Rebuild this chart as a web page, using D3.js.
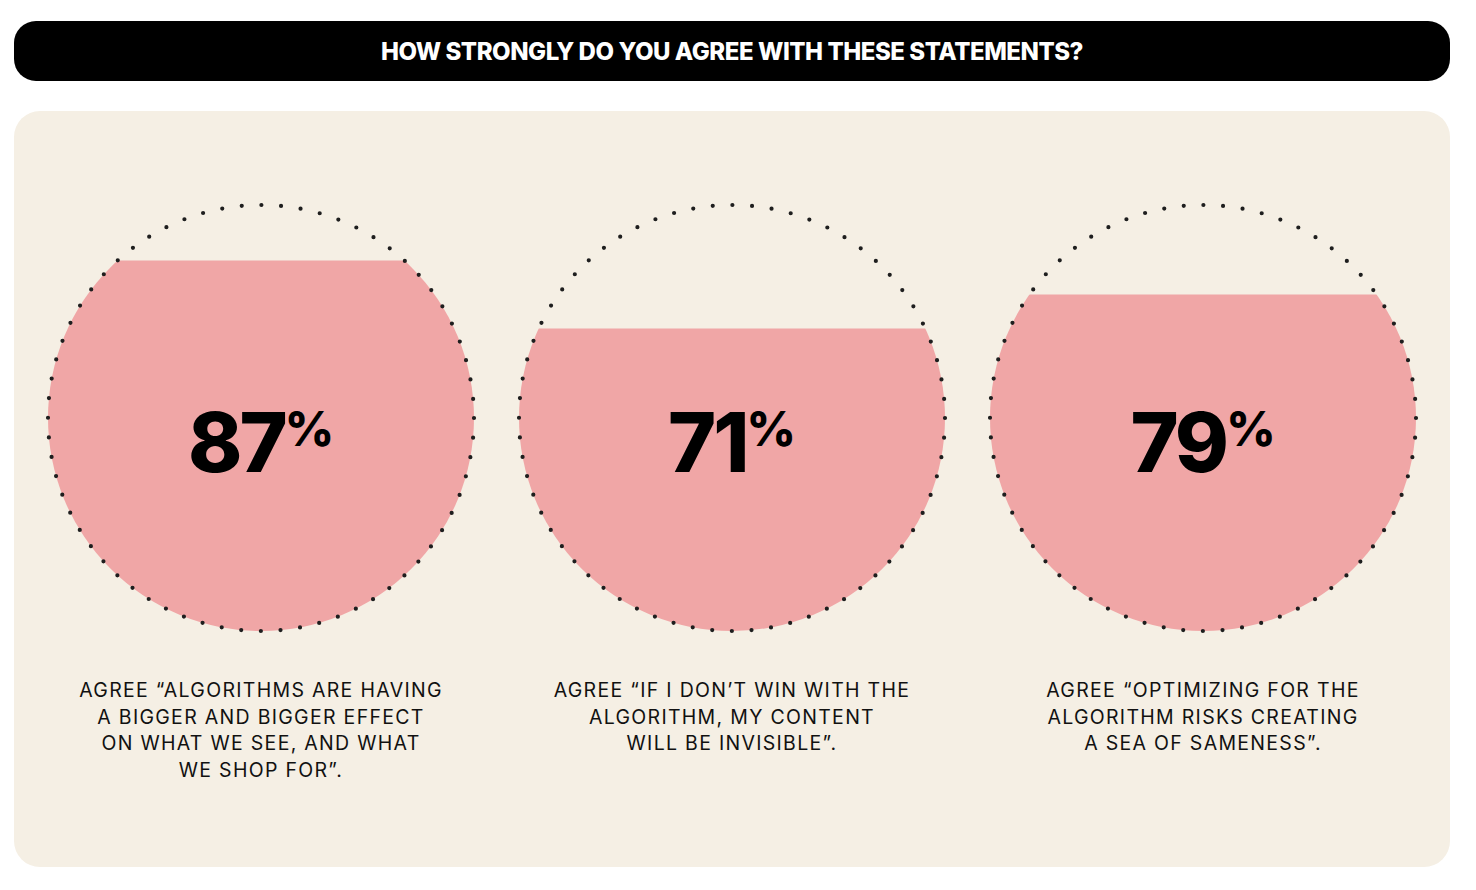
<!DOCTYPE html>
<html>
<head>
<meta charset="utf-8">
<script src="https://cdn.jsdelivr.net/npm/d3@7"></script>
<style>
  html, body { margin: 0; padding: 0; background: #ffffff; }
  svg { display: block; }
</style>
</head>
<body>
<svg id="chart" width="1476" height="890"></svg>
<script>
const title = "HOW STRONGLY DO YOU AGREE WITH THESE STATEMENTS?";
const categories = ["Algorithms effect", "Win with algorithm", "Sea of sameness"];
const values = [87, 71, 79];
const labelLines = [
  ["AGREE \u201CALGORITHMS ARE HAVING", "A BIGGER AND BIGGER EFFECT", "ON WHAT WE SEE, AND WHAT", "WE SHOP FOR\u201D."],
  ["AGREE \u201CIF I DON\u2019T WIN WITH THE", "ALGORITHM, MY CONTENT", "WILL BE INVISIBLE\u201D."],
  ["AGREE \u201COPTIMIZING FOR THE", "ALGORITHM RISKS CREATING", "A SEA OF SAMENESS\u201D."]
];

const svg = d3.select("#chart");

// header bar
svg.append("rect").attr("x", 14).attr("y", 21).attr("width", 1436).attr("height", 60)
  .attr("rx", 22).attr("fill", "#000");
svg.append("text").attr("x", 732).attr("y", 60).attr("text-anchor", "middle")
  .attr("font-family", "Inter, 'Liberation Sans', sans-serif").attr("font-weight", 800)
  .attr("font-size", 24).attr("letter-spacing", -0.45).attr("fill", "#fff").text(title);

// panel
svg.append("rect").attr("x", 14).attr("y", 111).attr("width", 1436).attr("height", 756)
  .attr("rx", 26).attr("fill", "#F5EFE4");

const cx = d3.scalePoint().domain(categories).range([261, 1203]);
const cy = 418, r = 213;
const y = d3.scaleLinear().domain([0, 100]).range([cy + r, cy - r]);
const nDots = 68;
const circ = 2 * Math.PI * r;

const defs = svg.append("defs");

categories.forEach((c, i) => {
  const x0 = cx(c);
  const g = svg.append("g");
  const clipId = "clip" + i;
  defs.append("clipPath").attr("id", clipId)
    .append("rect").attr("x", x0 - r - 2).attr("y", y(values[i]))
    .attr("width", 2 * r + 4).attr("height", y(0) - y(values[i]) + 2);
  g.append("circle").attr("cx", x0).attr("cy", cy).attr("r", r)
    .attr("fill", "#F0A6A6").attr("clip-path", `url(#${clipId})`);
  g.append("circle").attr("cx", x0).attr("cy", cy).attr("r", r)
    .attr("fill", "none").attr("stroke", "#1e1e1e").attr("stroke-width", 4.2)
    .attr("stroke-linecap", "round")
    .attr("stroke-dasharray", `0 ${circ / nDots}`);

  const t = g.append("text").attr("x", x0).attr("y", 472).attr("text-anchor", "middle")
    .attr("font-family", "Inter, 'Liberation Sans', sans-serif").attr("font-weight", 800)
    .attr("fill", "#000");
  t.append("tspan").attr("font-size", 82).attr("letter-spacing", -3).text(values[i]);
  t.append("tspan").attr("font-size", 48).attr("dy", -26).text("%");

  const lt = g.append("text").attr("text-anchor", "middle")
    .attr("font-family", "Inter, 'Liberation Sans', sans-serif").attr("font-weight", 400)
    .attr("font-size", 19.5).attr("letter-spacing", 1.3).attr("fill", "#111");
  labelLines[i].forEach((ln, k) => {
    lt.append("tspan").attr("x", x0).attr("y", 697 + k * 26.6).text(ln);
  });
});
</script>
</body>
</html>
